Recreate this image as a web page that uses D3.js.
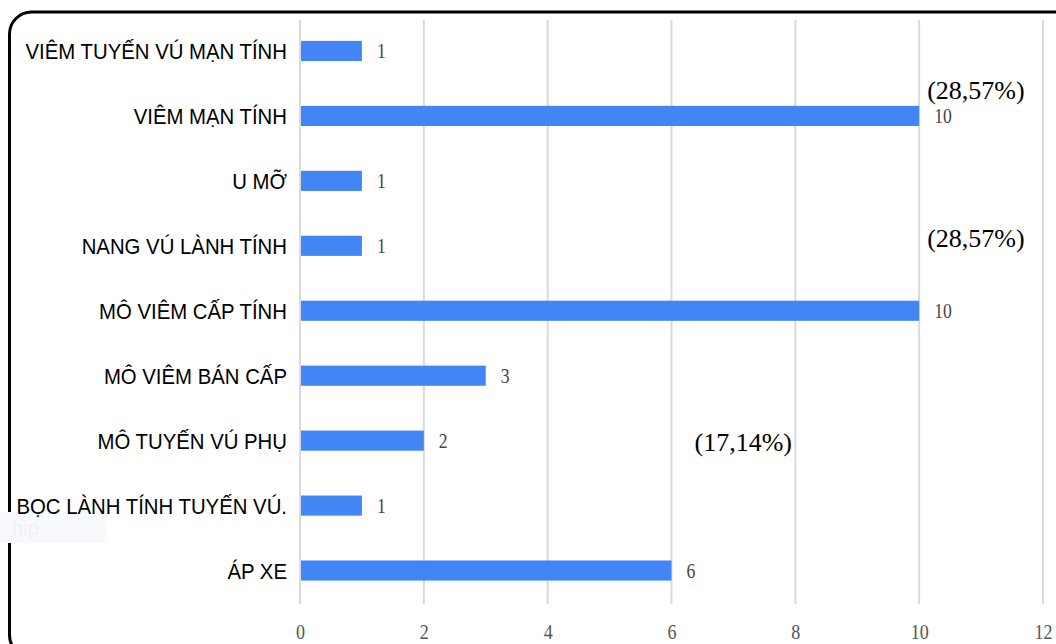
<!DOCTYPE html>
<html>
<head>
<meta charset="utf-8">
<script src="https://cdn.jsdelivr.net/npm/d3@7/dist/d3.min.js"></script>
<style>
  html, body { margin: 0; padding: 0; background: #fff; }
  svg { display: block; }
</style>
</head>
<body>
<svg id="chart" width="1056" height="644"></svg>
<script>
// Categories (top to bottom) and the number of cases in each
const categories = [
  "VIÊM TUYẾN VÚ MẠN TÍNH",
  "VIÊM MẠN TÍNH",
  "U MỠ",
  "NANG VÚ LÀNH TÍNH",
  "MÔ VIÊM CẤP TÍNH",
  "MÔ VIÊM BÁN CẤP",
  "MÔ TUYẾN VÚ PHỤ",
  "BỌC LÀNH TÍNH TUYẾN VÚ.",
  "ÁP XE"
];
const counts = [1, 10, 1, 1, 10, 3, 2, 1, 6];
const xTicks = [0, 2, 4, 6, 8, 10, 12];

// Share notes: which category each percentage refers to
const noteCategories = ["VIÊM MẠN TÍNH", "MÔ VIÊM CẤP TÍNH", "ÁP XE"];

const svg = d3.select("#chart");
const total = d3.sum(counts);

const x = d3.scaleLinear().domain([0, 12]).range([300, 1043]);
const y = d3.scaleBand().domain(categories).range([18.5, 603]).paddingInner(0.69).paddingOuter(0.345);
const cy = c => y(c) + y.bandwidth() / 2;

// Frame around the chart
svg.append("rect")
  .attr("x", 9.5).attr("y", 12)
  .attr("width", 1100).attr("height", 645)
  .attr("rx", 22).attr("ry", 22)
  .attr("fill", "none").attr("stroke", "#000").attr("stroke-width", 3);

// Faint badge behind the lower labels
svg.append("rect").attr("x", 0).attr("y", 512).attr("width", 107).attr("height", 31).attr("fill", "#f8f9fc");
svg.append("text").attr("x", 12).attr("y", 535).text("hip")
  .attr("font-family", "Liberation Sans, Arial, sans-serif").attr("font-size", 20).attr("fill", "#eef0f4");

// Vertical gridlines
svg.append("g").selectAll("line").data(xTicks).join("line")
  .attr("x1", d => x(d)).attr("x2", d => x(d))
  .attr("y1", 20).attr("y2", 604)
  .attr("stroke", "#dadada").attr("stroke-width", 2);

// Bottom axis tick labels
const xAxis = d3.axisBottom(x).tickValues(xTicks).tickSize(0).tickPadding(0).tickFormat(d3.format("d"));
const gx = svg.append("g").attr("transform", "translate(0,624)").call(xAxis);
gx.select(".domain").remove();
gx.selectAll("text")
  .attr("font-family", "Liberation Serif, Times New Roman, serif")
  .attr("font-size", 21).attr("fill", "#555")
  .attr("dy", "0.71em")
  .attr("transform", "scale(0.86,1)");

// Category labels
const yAxis = d3.axisLeft(y).tickSize(0).tickPadding(0);
const gy = svg.append("g").call(yAxis);
gy.select(".domain").remove();
gy.selectAll(".tick text")
  .attr("x", 0).attr("dy", "0.36em")
  .attr("text-anchor", "end")
  .attr("font-family", "Liberation Sans, Arial, sans-serif")
  .attr("font-size", 23).attr("fill", "#000")
  .attr("transform", "translate(287,0) scale(0.885,1)");

// Bars
svg.append("g").selectAll("rect").data(categories).join("rect")
  .attr("x", x(0) + 1)
  .attr("y", c => y(c))
  .attr("width", (c, i) => x(counts[i]) - x(0) - 1)
  .attr("height", y.bandwidth())
  .attr("fill", "#4285f4");

// Value labels at bar ends
svg.append("g").selectAll("text").data(categories).join("text")
  .attr("transform", (c, i) => `translate(${x(counts[i]) + 15},${cy(c) + 7}) scale(0.84,1)`)
  .attr("font-family", "Liberation Serif, Times New Roman, serif")
  .attr("font-size", 21).attr("fill", "#444")
  .text((c, i) => counts[i]);

// Percentage notes
const pct = c => {
  const v = counts[categories.indexOf(c)] / total * 100;
  return "(" + d3.format(".2f")(v).replace(".", ",") + "%)";
};
const notePos = [
  { x: x(10) + 8, y: cy("VIÊM MẠN TÍNH") - 17 },
  { x: x(10) + 8, y: cy("NANG VÚ LÀNH TÍNH") + 1 },
  { x: x(6) + 23, y: cy("MÔ TUYẾN VÚ PHỤ") + 10 }
];
svg.append("g").selectAll("text").data(noteCategories).join("text")
  .attr("x", (c, i) => notePos[i].x)
  .attr("y", (c, i) => notePos[i].y)
  .attr("font-family", "Liberation Serif, Times New Roman, serif")
  .attr("font-size", 26).attr("fill", "#000")
  .text(c => pct(c));
</script>
</body>
</html>
